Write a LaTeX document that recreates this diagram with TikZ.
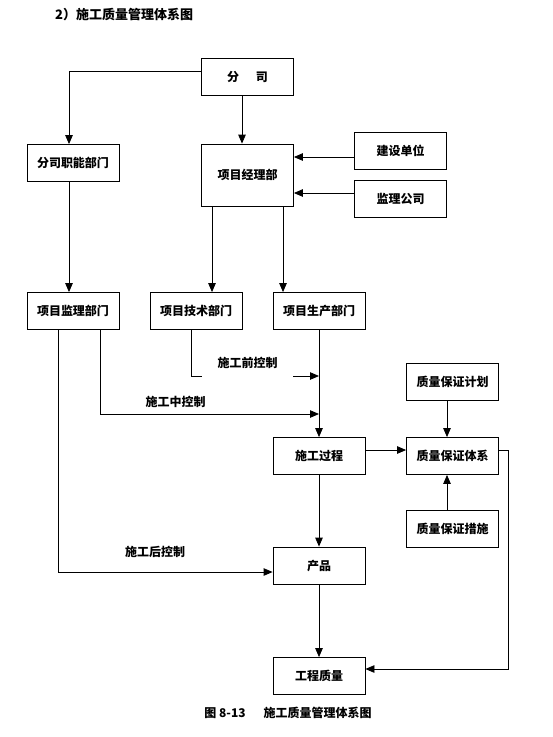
\documentclass[tikz,border=0pt]{standalone}
\usepackage{fontspec}
\setmainfont{Noto Sans CJK SC}
\usepackage{tikz}
\usetikzlibrary{arrows.meta}

\begin{document}
\begin{tikzpicture}[
    x=1pt, y=-1pt,
    box/.style={
        draw=black, line width=0.8pt, fill=white,
        rectangle, inner sep=2pt, align=center,
        font=\fontsize{12}{14}\selectfont\bfseries,
        minimum width=92pt, minimum height=37pt,
    },
    lbl/.style={
        font=\fontsize{12}{14}\selectfont\bfseries, inner sep=1pt,
    },
    arr/.style={
        -{Triangle[length=9pt, width=7.5pt]}, line width=0.8pt, draw=black
    },
    ln/.style={line width=0.8pt, draw=black},
]
\useasboundingbox (0,0) rectangle (553,737);

% title and caption
\node[lbl, anchor=west, font=\fontsize{13}{15}\selectfont\bfseries] (title) at (54,15) {2）施工质量管理体系图};
\node[lbl] (caption) at (288,713) {图 8-13\hspace{1.5em}施工质量管理体系图};

% boxes
\node[box] (fensi) at (247.5,77) {分\hspace{1.4em}司};
\node[box] (zhineng) at (73,163) {分司职能部门};
\node[box, minimum height=62pt] (jingli) at (247.5,175) {项目经理部};
\node[box] (jianshe) at (400.5,151) {建设单位};
\node[box] (jianli) at (400.5,199) {监理公司};
\node[box] (jiandu) at (73,311) {项目监理部门};
\node[box] (jishu) at (196,311) {项目技术部门};
\node[box] (shengchan) at (319,311) {项目生产部门};
\node[box] (jihua) at (452.5,382) {质量保证计划};
\node[box] (guocheng) at (319,456) {施工过程};
\node[box] (tixi) at (452.5,456) {质量保证体系};
\node[box] (cuoshi) at (452.5,529) {质量保证措施};
\node[box] (chanpin) at (319,565.5) {产品};
\node[box] (zhiliang) at (319,676) {工程质量};

\coordinate (qian) at (319,376);
\coordinate (zhong) at (319,414);
\coordinate (rt) at (508,669);

% top part
\draw[arr] ([yshift=6pt]fensi.west) -| ([xshift=-4pt]zhineng.north);
\draw[arr] ([xshift=-5.5pt]fensi.south) -- ([xshift=-5.5pt]jingli.north);
\draw[arr] ([yshift=-6pt]jianshe.west) -- ([yshift=-6pt]jianshe.west -| jingli.east);
\draw[arr] ([yshift=6pt]jianli.west) -- ([yshift=6pt]jianli.west -| jingli.east);
\draw[arr] ([xshift=-4pt]zhineng.south) -- ([xshift=-4pt]jiandu.north);
\draw[arr] ([xshift=-35.5pt]jingli.south) -- ([xshift=-35.5pt]jingli.south |- jishu.north);
\draw[arr] ([xshift=35.5pt]jingli.south) -- ([xshift=35.5pt]jingli.south |- shengchan.north);

% controls
\draw[arr] ([xshift=-5pt]jishu.south) |- (qian);
\node[lbl, fill=white, minimum width=91pt, minimum height=30pt] (qianlbl) at (247.5,363) {施工前控制};
\draw[arr] ([xshift=27pt]jiandu.south) |- (zhong);
\node[lbl] (zhonglbl) at (175.5,402) {施工中控制};
\draw[arr] ([xshift=-15pt]jiandu.south) |- ([yshift=-6.5pt]chanpin.west);
\node[lbl] (houlbl) at (155,552) {施工后控制};

% process
\draw[arr] (shengchan) -- (guocheng);
\draw[arr] (guocheng) -- (chanpin);
\draw[arr] (chanpin) -- (zhiliang);
\draw[arr] ([yshift=6pt]guocheng.east) -- ([yshift=6pt]guocheng.east -| tixi.west);
\draw[arr] ([xshift=-5.5pt]jihua.south) -- ([xshift=-5.5pt]tixi.north);
\draw[arr] ([xshift=-5.5pt]cuoshi.north) -- ([xshift=-5.5pt]tixi.south);
\draw[arr] ([yshift=6pt]tixi.east) -| (rt) |- ([yshift=7pt]zhiliang.east);
\end{tikzpicture}
\end{document}
